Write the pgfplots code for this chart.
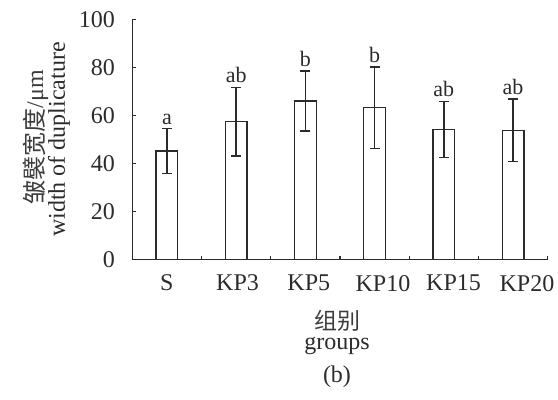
\documentclass[border=0pt]{standalone}
\usepackage{pgfplots}
\pgfplotsset{compat=1.18}
\usepackage{fontspec}
\setmainfont{Liberation Serif}
\newfontfamily\cjk{Noto Sans CJK SC}
\definecolor{ink}{HTML}{2B2B2B}
\definecolor{cjkink}{HTML}{3C3C3C}
\begin{document}
\fontsize{12}{14}\selectfont
\begin{tikzpicture}
\begin{axis}[
  scale only axis, width=207.7pt, height=120.2pt,
  at={(0pt,0pt)}, anchor=south west,
  xmin=-0.5, xmax=5.5, ymin=0, ymax=100,
  axis x line*=bottom, axis y line*=left,
  axis line style={ink, line width=0.7pt},
  every tick/.style={ink, line width=0.7pt},
  tick align=inside, major tick length=2pt,
  xtick={0.5,1.5,2.5,3.5,4.5,5.5}, xticklabels={},
  extra x ticks={0,1.02,2.05,3.12,4.14,5.2},
  extra x tick labels={S,KP3,KP5,KP10,KP15,KP20},
  extra x tick style={tick style={draw=none}},
  ytick={0,20,40,60,80,100},
  yticklabel style={xshift=-4.5pt, text=ink},
  xticklabel style={yshift=-3.5pt, text=ink},
  /pgf/number format/assume math mode=true,
  clip=false,
]
\addplot[ybar, bar width=10.85pt, bar shift=0pt, fill=white, draw=ink, line width=0.7pt]
coordinates {
 (0,45.2) (1,57.4) (2,66.0) (3,63.2) (4,54.2) (5,53.8)
};
\addplot[draw=none, mark=none,
  error bars/.cd, y dir=both, y explicit,
  error bar style={draw=ink, line width=0.7pt},
  error mark options={rotate=90, draw=ink, line width=0.7pt, mark size=2.5pt}]
coordinates {
 (0,45.2) +- (0,9.3)
 (1,57.4) +- (0,14.3)
 (2,66.0) +- (0,12.5)
 (3,63.2) +- (0,17.0)
 (4,54.2) +- (0,11.7)
 (5,53.8) +- (0,13.0)
};
\addplot[draw=none, mark=none, nodes near coords, point meta=explicit symbolic,
  every node near coord/.append style={anchor=south, inner sep=0pt, yshift=2pt, text=ink, font=\fontsize{11}{12}\selectfont}]
coordinates {
 (0,54.5) [a]
 (1,71.7) [ab]
 (2,78.5) [b]
 (3,80.2) [b]
 (4,65.9) [ab]
 (5,66.8) [ab]
};
\end{axis}
\node[rotate=90, inner sep=0pt, text=cjkink, font=\fontsize{12}{14}\selectfont] at (-48.4pt,61.3pt) {{\cjk 皱襞宽度}/μm};
\node[rotate=90, inner sep=0pt, text=ink, font=\fontsize{12}{14}\selectfont] at (-36.6pt,60.1pt) {width of duplicature};
\node[inner sep=0pt, text=cjkink, font=\cjk\fontsize{11.5}{13}\selectfont] at (102.35pt,-30.6pt) {组别};
\node[inner sep=0pt, text=ink, font=\fontsize{12}{14}\selectfont] at (102.35pt,-43.2pt) {groups};
\node[inner sep=0pt, text=ink, font=\fontsize{12}{14}\selectfont] at (102.35pt,-58.5pt) {(b)};
\pgfresetboundingbox
\path (-66.15pt,-70.15pt) rectangle (212.85pt,129.85pt);
\end{tikzpicture}
\end{document}
